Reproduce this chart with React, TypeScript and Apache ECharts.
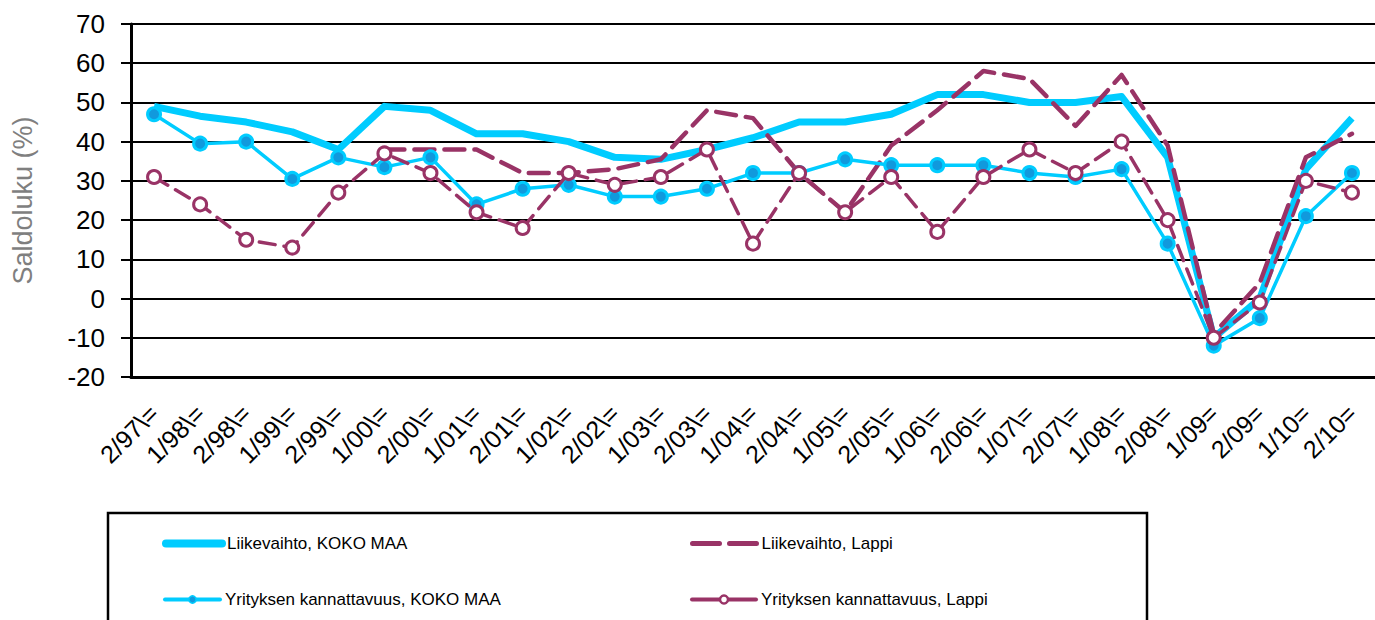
import React, { useEffect, useRef } from "react";
import * as echarts from "echarts";

const categories: string[] = [
  "2/97\\=", "1/98\\=", "2/98\\=", "1/99\\=", "2/99\\=", "1/00\\=", "2/00\\=",
  "1/01\\=", "2/01\\=", "1/02\\=", "2/02\\=", "1/03\\=", "2/03\\=", "1/04\\=",
  "2/04\\=", "1/05\\=", "2/05\\=", "1/06\\=", "2/06\\=", "1/07\\=", "2/07\\=",
  "1/08\\=", "2/08\\=", "1/09=", "2/09=", "1/10=", "2/10=",
];

const liikevaihtoKoko: number[] = [
  49, 46.5, 45, 42.5, 38, 49, 48, 42, 42, 40, 36, 35.5, 38, 41, 45, 45, 47,
  52, 52, 50, 50, 51.5, 36, -10, 0, 33, 46,
];

const liikevaihtoLappi: (number | null)[] = [
  null, null, null, null, null, 38, 38, 38, 32, 32, 33, 35.5, 48, 46, 32, 22,
  39, 48, 58, 56, 44, 57, 39, -9, 4, 36, 42,
];

const kannattavuusKoko: number[] = [
  47, 39.5, 40, 30.5, 36, 33.5, 36, 24, 28, 29, 26, 26, 28, 32, 32, 35.5, 34,
  34, 34, 32, 31, 33, 14, -12, -5, 21, 32,
];

const kannattavuusLappi: number[] = [
  31, 24, 15, 13, 27, 37, 32, 22, 18, 32, 29, 31, 38, 14, 32, 22, 31, 17, 31,
  38, 32, 40, 20, -10, -1, 30, 27,
];

const names = [
  "Liikevaihto, KOKO MAA",
  "Liikevaihto, Lappi",
  "Yrityksen kannattavuus, KOKO MAA",
  "Yrityksen kannattavuus, Lappi",
];

const CYAN = "#00CCFF";
const CYAN_DARK = "#1199DD";
const PURPLE = "#993366";
const FONT = "'Liberation Sans', Arial, sans-serif";

export default function App() {
  const ref = useRef<HTMLDivElement>(null);

  useEffect(() => {
    if (!ref.current) return;
    const chart = echarts.init(ref.current, null, { renderer: "svg" });
    const legendText = { fontSize: 17, color: "#000", fontFamily: FONT };
    const option: any = {
      animation: false,
      textStyle: { fontFamily: FONT },
      grid: { left: 131, top: 24, bottom: 243, width: 1250, containLabel: false },
      xAxis: {
        type: "category",
        data: categories,
        boundaryGap: true,
        axisLine: { onZero: false, lineStyle: { color: "#000", width: 3 } },
        axisTick: { show: false },
        axisLabel: {
          interval: 0,
          rotate: 45,
          margin: 32,
          fontSize: 25,
          color: "#000",
          fontFamily: FONT,
        },
        splitLine: { show: false },
      },
      yAxis: {
        type: "value",
        min: -20,
        max: 70,
        interval: 10,
        name: "Saldoluku (%)",
        nameLocation: "middle",
        nameGap: 95,
        nameTextStyle: { fontSize: 27, color: "#7f7f7f", fontFamily: FONT },
        axisLine: { show: true, lineStyle: { color: "#000", width: 3 } },
        axisTick: { show: true, length: 10, lineStyle: { color: "#000", width: 2 } },
        axisLabel: { margin: 26, fontSize: 26, color: "#000", fontFamily: FONT },
        splitLine: { show: true, lineStyle: { color: "#000", width: 2 } },
      },
      legend: [
        {
          data: [names[0]],
          left: 162,
          top: 535,
          padding: 0,
          itemWidth: 56,
          itemHeight: 16,
          selectedMode: false,
          textStyle: legendText,
          lineStyle: { width: 8, color: CYAN, cap: "round" },
          itemStyle: { opacity: 0 },
        },
        {
          data: [names[1]],
          left: 690,
          top: 535,
          padding: 0,
          itemWidth: 64,
          itemHeight: 16,
          selectedMode: false,
          textStyle: legendText,
          lineStyle: { width: 5, color: PURPLE, type: [27, 10], cap: "round" },
          itemStyle: { opacity: 0 },
        },
        {
          data: [names[2]],
          left: 163,
          top: 591,
          padding: 0,
          itemWidth: 55,
          itemHeight: 9,
          selectedMode: false,
          textStyle: legendText,
          lineStyle: { width: 4, color: CYAN, type: "solid", cap: "round" },
          itemStyle: { color: CYAN_DARK, borderColor: CYAN, borderWidth: 1.5 },
        },
        {
          data: [names[3]],
          left: 690,
          top: 591,
          padding: 0,
          itemWidth: 64,
          itemHeight: 10,
          selectedMode: false,
          textStyle: legendText,
          lineStyle: { width: 4, color: PURPLE, type: "solid", cap: "round" },
          itemStyle: { color: "#fff", borderColor: PURPLE, borderWidth: 2.5 },
        },
      ],
      graphic: [
        {
          type: "rect",
          shape: { x: 108, y: 513, width: 1039, height: 200 },
          style: { fill: "none", stroke: "#000", lineWidth: 2.5 },
          silent: true,
        },
      ],
      series: [
        {
          name: names[0],
          type: "line",
          data: liikevaihtoKoko,
          symbol: "none",
          lineStyle: { color: CYAN, width: 7, join: "round" },
          itemStyle: { color: CYAN },
          z: 2,
        },
        {
          name: names[1],
          type: "line",
          data: liikevaihtoLappi,
          symbol: "none",
          lineStyle: { color: PURPLE, width: 4.5, type: [20, 10], cap: "round", join: "round" },
          itemStyle: { color: PURPLE },
          z: 3,
        },
        {
          name: names[2],
          type: "line",
          data: kannattavuusKoko,
          symbol: "circle",
          symbolSize: 13,
          showAllSymbol: true,
          lineStyle: { color: CYAN, width: 3.5, join: "round" },
          itemStyle: { color: CYAN_DARK, borderColor: CYAN, borderWidth: 3 },
          z: 4,
        },
        {
          name: names[3],
          type: "line",
          data: kannattavuusLappi,
          symbol: "circle",
          symbolSize: 13,
          showAllSymbol: true,
          lineStyle: { color: PURPLE, width: 3.5, type: [16, 9], cap: "round", join: "round" },
          itemStyle: { color: "#fff", borderColor: PURPLE, borderWidth: 3 },
          z: 5,
        },
      ],
    };
    chart.setOption(option);
    return () => chart.dispose();
  }, []);

  return (
    <div
      ref={ref}
      style={{ position: "absolute", left: 0, top: 0, width: 1375, height: 620 }}
    />
  );
}
